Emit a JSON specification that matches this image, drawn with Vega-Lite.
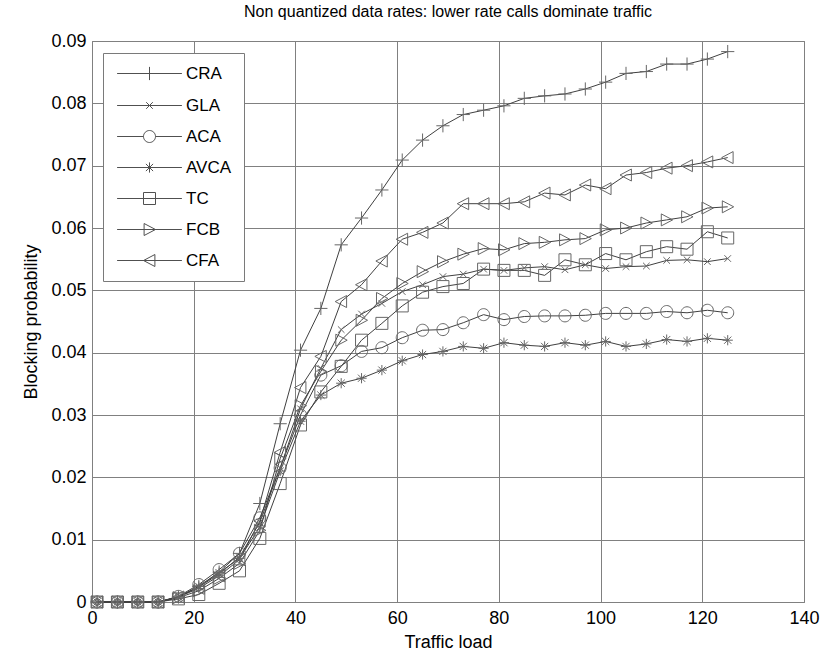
{
  "$schema": "https://vega.github.io/schema/vega-lite/v6.json",
  "autosize": "none",
  "width": 712,
  "height": 561,
  "padding": {"left": 92, "top": 41, "right": 20, "bottom": 58},
  "background": "white",
  "config": {
    "font": "Liberation Sans",
    "view": {"stroke": "#7a7a7a", "strokeWidth": 1}
  },
  "title": {"text": "Non quantized data rates: lower rate calls dominate traffic", "fontSize": 16, "fontWeight": "normal", "color": "black", "offset": 12, "anchor": "middle"},
  "data": {"values": [
    {"x": 1, "CRA": 0, "GLA": 0, "ACA": 0, "AVCA": 0, "TC": 0, "FCB": 0, "CFA": 0},
    {"x": 5, "CRA": 0, "GLA": 0, "ACA": 0, "AVCA": 0, "TC": 0, "FCB": 0, "CFA": 0},
    {"x": 9, "CRA": 0, "GLA": 0, "ACA": 0, "AVCA": 0, "TC": 0, "FCB": 0, "CFA": 0},
    {"x": 13, "CRA": 0, "GLA": 0, "ACA": 0, "AVCA": 0, "TC": 0, "FCB": 0, "CFA": 0},
    {"x": 17, "CRA": 0.0008, "GLA": 0.0008, "ACA": 0.0009, "AVCA": 0.0008, "TC": 0.0005, "FCB": 0.0007, "CFA": 0.0008},
    {"x": 21, "CRA": 0.0025, "GLA": 0.0024, "ACA": 0.0028, "AVCA": 0.0025, "TC": 0.0012, "FCB": 0.0018, "CFA": 0.0022},
    {"x": 25, "CRA": 0.0048, "GLA": 0.0045, "ACA": 0.0052, "AVCA": 0.0047, "TC": 0.0030, "FCB": 0.0038, "CFA": 0.0042},
    {"x": 29, "CRA": 0.0078, "GLA": 0.0072, "ACA": 0.0078, "AVCA": 0.0070, "TC": 0.0050, "FCB": 0.0062, "CFA": 0.0068},
    {"x": 33, "CRA": 0.0158, "GLA": 0.0128, "ACA": 0.0135, "AVCA": 0.0120, "TC": 0.0102, "FCB": 0.0115, "CFA": 0.0130},
    {"x": 37, "CRA": 0.0286, "GLA": 0.0215, "ACA": 0.0215, "AVCA": 0.0210, "TC": 0.0190, "FCB": 0.0230, "CFA": 0.0240},
    {"x": 41, "CRA": 0.0404, "GLA": 0.0310, "ACA": 0.0300, "AVCA": 0.0290, "TC": 0.0284, "FCB": 0.0315, "CFA": 0.0344},
    {"x": 45, "CRA": 0.0471, "GLA": 0.0375, "ACA": 0.0364, "AVCA": 0.0332, "TC": 0.0337, "FCB": 0.0370, "CFA": 0.0394},
    {"x": 49, "CRA": 0.0573, "GLA": 0.0437, "ACA": 0.0379, "AVCA": 0.0351, "TC": 0.0378, "FCB": 0.0420, "CFA": 0.0482},
    {"x": 53, "CRA": 0.0616, "GLA": 0.0462, "ACA": 0.0402, "AVCA": 0.0359, "TC": 0.0420, "FCB": 0.0452, "CFA": 0.0509},
    {"x": 57, "CRA": 0.0661, "GLA": 0.0479, "ACA": 0.0408, "AVCA": 0.0372, "TC": 0.0447, "FCB": 0.0487, "CFA": 0.0547},
    {"x": 61, "CRA": 0.0709, "GLA": 0.0498, "ACA": 0.0424, "AVCA": 0.0387, "TC": 0.0475, "FCB": 0.0511, "CFA": 0.0582},
    {"x": 65, "CRA": 0.0741, "GLA": 0.0509, "ACA": 0.0436, "AVCA": 0.0397, "TC": 0.0497, "FCB": 0.0530, "CFA": 0.0593},
    {"x": 69, "CRA": 0.0764, "GLA": 0.0522, "ACA": 0.0437, "AVCA": 0.0402, "TC": 0.0506, "FCB": 0.0546, "CFA": 0.0608},
    {"x": 73, "CRA": 0.0782, "GLA": 0.0526, "ACA": 0.0448, "AVCA": 0.0410, "TC": 0.0511, "FCB": 0.0558, "CFA": 0.0639},
    {"x": 77, "CRA": 0.0789, "GLA": 0.0534, "ACA": 0.0461, "AVCA": 0.0407, "TC": 0.0534, "FCB": 0.0567, "CFA": 0.0639},
    {"x": 81, "CRA": 0.0796, "GLA": 0.0532, "ACA": 0.0453, "AVCA": 0.0416, "TC": 0.0532, "FCB": 0.0565, "CFA": 0.0639},
    {"x": 85, "CRA": 0.0808, "GLA": 0.0536, "ACA": 0.0458, "AVCA": 0.0412, "TC": 0.0532, "FCB": 0.0575, "CFA": 0.0642},
    {"x": 89, "CRA": 0.0812, "GLA": 0.0538, "ACA": 0.0459, "AVCA": 0.0410, "TC": 0.0524, "FCB": 0.0577, "CFA": 0.0656},
    {"x": 93, "CRA": 0.0815, "GLA": 0.0533, "ACA": 0.0459, "AVCA": 0.0416, "TC": 0.0549, "FCB": 0.0581, "CFA": 0.0653},
    {"x": 97, "CRA": 0.0823, "GLA": 0.0541, "ACA": 0.0460, "AVCA": 0.0412, "TC": 0.0541, "FCB": 0.0583, "CFA": 0.0669},
    {"x": 101, "CRA": 0.0834, "GLA": 0.0535, "ACA": 0.0463, "AVCA": 0.0418, "TC": 0.0559, "FCB": 0.0597, "CFA": 0.0663},
    {"x": 105, "CRA": 0.0848, "GLA": 0.0538, "ACA": 0.0463, "AVCA": 0.0410, "TC": 0.0549, "FCB": 0.0600, "CFA": 0.0685},
    {"x": 109, "CRA": 0.0851, "GLA": 0.0539, "ACA": 0.0463, "AVCA": 0.0414, "TC": 0.0562, "FCB": 0.0608, "CFA": 0.0689},
    {"x": 113, "CRA": 0.0863, "GLA": 0.0548, "ACA": 0.0466, "AVCA": 0.0421, "TC": 0.0570, "FCB": 0.0613, "CFA": 0.0696},
    {"x": 117, "CRA": 0.0863, "GLA": 0.0549, "ACA": 0.0464, "AVCA": 0.0418, "TC": 0.0566, "FCB": 0.0618, "CFA": 0.0700},
    {"x": 121, "CRA": 0.0871, "GLA": 0.0546, "ACA": 0.0468, "AVCA": 0.0423, "TC": 0.0594, "FCB": 0.0632, "CFA": 0.0706},
    {"x": 125, "CRA": 0.0883, "GLA": 0.0551, "ACA": 0.0464, "AVCA": 0.0420, "TC": 0.0584, "FCB": 0.0634, "CFA": 0.0713}
  ]},
  "transform": [{"fold": ["CRA", "GLA", "ACA", "AVCA", "TC", "FCB", "CFA"], "as": ["series", "v"]}],
  "encoding": {
    "x": {"field": "x", "type": "quantitative",
      "scale": {"domain": [0, 140], "nice": false},
      "axis": {"values": [0, 20, 40, 60, 80, 100, 120, 140], "grid": true, "gridColor": "#808080", "gridOpacity": 1, "domain": false, "ticks": false, "labelFontSize": 18, "labelColor": "black", "labelPadding": 7, "title": "Traffic load", "titleFontSize": 18, "titleFontWeight": "normal", "titleColor": "black", "titlePadding": 6, "labelFlush": false}},
    "y": {"field": "v", "type": "quantitative",
      "scale": {"domain": [0, 0.09], "nice": false, "zero": false},
      "axis": {"values": [0, 0.01, 0.02, 0.03, 0.04, 0.05, 0.06, 0.07, 0.08, 0.09], "labelExpr": "datum.value == 0 ? '0' : format(datum.value, '.2f')", "grid": true, "gridColor": "#808080", "gridOpacity": 1, "domain": false, "ticks": false, "labelFontSize": 18, "labelColor": "black", "labelPadding": 6, "title": "Blocking probability", "titleFontSize": 18, "titleFontWeight": "normal", "titleColor": "black", "titlePadding": 10, "labelFlush": false}}
  },
  "layer": [
    {
      "mark": {"type": "line", "color": "#404040", "strokeWidth": 1},
      "encoding": {"detail": {"field": "series"}}
    },
    {
      "mark": {"type": "point", "filled": false, "color": "#666666", "strokeWidth": 1, "size": 144, "opacity": 1},
      "encoding": {
        "shape": {"field": "series", "type": "nominal",
          "scale": {"domain": ["CRA", "GLA", "ACA", "AVCA", "TC", "FCB", "CFA"],
            "range": [
              "M-1.1,0H1.1M0,-1.1V1.1",
              "M-0.55,-0.55L0.55,0.55M-0.55,0.55L0.55,-0.55",
              "M-1,0A1,1,0,1,1,1,0A1,1,0,1,1,-1,0Z",
              "M-0.85,0H0.85M0,-0.85V0.85M-0.6,-0.6L0.6,0.6M-0.6,0.6L0.6,-0.6",
              "M-1,-1H1V1H-1Z",
              "M-0.9,-1L1,0L-0.9,1Z",
              "M0.9,-1L-1,0L0.9,1Z"
            ]},
          "legend": null}
      }
    },
    {
      "transform": [{"filter": "datum.x < 0"}],
      "mark": {"type": "point", "filled": false, "color": "#505050", "strokeWidth": 1, "size": 144, "opacity": 1},
      "encoding": {
        "x": null, "y": null,
        "shape": {"field": "series", "type": "nominal",
          "scale": {"domain": ["CRA", "GLA", "ACA", "AVCA", "TC", "FCB", "CFA"],
            "range": [
              "M-5.4,0H5.4M0,-1.1V1.1",
              "M-5.4,0H5.4M-0.55,-0.55L0.55,0.55M-0.55,0.55L0.55,-0.55",
              "M-5.4,0H-1M1,0H5.4M-1,0A1,1,0,1,1,1,0A1,1,0,1,1,-1,0Z",
              "M-5.4,0H5.4M0,-0.85V0.85M-0.6,-0.6L0.6,0.6M-0.6,0.6L0.6,-0.6",
              "M-5.4,0H5.4M-1,-1H1V1H-1Z",
              "M-5.4,0H5.4M-0.9,-1L1,0L-0.9,1Z",
              "M-5.4,0H5.4M0.9,-1L-1,0L0.9,1Z"
            ]},
          "legend": {"title": null, "orient": "none", "legendX": 11, "legendY": 12, "strokeColor": "#7a7a7a", "fillColor": "white", "padding": 12, "labelFontSize": 17, "labelColor": "black", "labelOffset": 28, "symbolOffset": 26, "rowPadding": 13, "symbolStrokeWidth": 1, "symbolStrokeColor": "#505050", "symbolSize": 144, "symbolOpacity": 1}}
      }
    }
  ],
  "resolve": {"scale": {"shape": "independent"}, "legend": {"shape": "independent"}}
}
